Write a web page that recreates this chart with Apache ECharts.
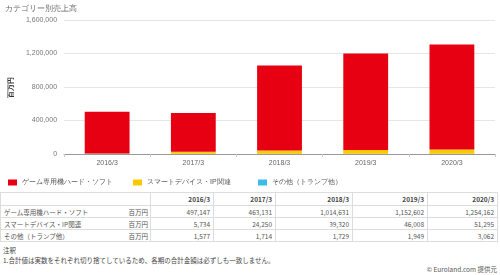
<!DOCTYPE html>
<html>
<head>
<meta charset="utf-8">
<script src="https://cdn.jsdelivr.net/npm/echarts@6/dist/echarts.min.js"></script>
<style>
  body { margin: 0; background: #fff; font-family: "Noto Sans CJK JP", "Noto Sans", sans-serif; }
  #chart { position: absolute; left: 0; top: 0; width: 500px; height: 190px; }
  #tbl { position: absolute; left: 0; top: 192px; width: 497px; border-collapse: collapse; font-size: 6.5px; color: #555; table-layout: fixed; }
  #tbl td { border: 1px solid #ddd; padding: 0 3px; white-space: nowrap; overflow: hidden; }
  #tbl tr { height: 12px; }
  #tbl tr.head { height: 13px; }
  #tbl td.num { text-align: right; }
  #tbl td.lbl { border-right: none; }
  #tbl td.unit { border-left: none; padding: 0 2px 0 0; }
  #tbl tr.head td { font-weight: bold; color: #444; }
  #note { position: absolute; left: 3px; top: 245px; font-size: 6.5px; color: #444; line-height: 10px; }
  #src { position: absolute; right: 3px; top: 264px; font-size: 6.5px; color: #555; }
</style>
</head>
<body>
<div id="chart"></div>
<table id="tbl"></table>
<div id="note">注釈<br>1.合計値は実数をそれぞれ切り捨てしているため、各期の合計金額は必ずしも一致しません。</div>
<div id="src">© Euroland.com 提供元</div>
<script>
const categories = ['2016/3', '2017/3', '2018/3', '2019/3', '2020/3'];
const seriesNames = ['ゲーム専用機ハード・ソフト', 'スマートデバイス・IP関連', 'その他（トランプ他）'];
const gameValues = [497147, 463131, 1014631, 1152602, 1254162];
const smartValues = [5734, 24250, 39320, 46008, 51295];
const otherValues = [1577, 1714, 1729, 1949, 3062];
const unit = '百万円';
const colors = ['#e60012', '#fcc800', '#3cbde9'];

const fmt = v => v.toLocaleString('en-US');

// one legend per item so they sit on a fixed 125px spacing
const legends = seriesNames.map((n, i) => ({
    data: [n],
    left: 3 + i * 125, top: 174,
    itemWidth: 9, itemHeight: 6,
    icon: 'rect',
    textStyle: { fontSize: 7, color: '#555' }
}));

const chart = echarts.init(document.getElementById('chart'));
chart.setOption({
    animation: false,
    title: {
        text: 'カテゴリー別売上高',
        left: 0, top: 0,
        textStyle: { fontSize: 8, fontWeight: 'normal', color: '#666' }
    },
    legend: legends,
    grid: { left: 45, right: 5, top: 20, bottom: 36 },
    xAxis: {
        type: 'category',
        data: categories,
        axisLine: { lineStyle: { color: '#999' } },
        axisTick: { show: true, length: 3, lineStyle: { color: '#ccc' } },
        axisLabel: { fontSize: 7, color: '#666', margin: 6 }
    },
    yAxis: {
        type: 'value',
        min: 0, max: 1600000, interval: 400000,
        name: unit,
        nameLocation: 'middle',
        nameGap: 38,
        nameRotate: 90,
        nameTextStyle: { fontSize: 7, fontWeight: 'bold', color: '#333' },
        axisLabel: { fontSize: 7, color: '#777', margin: 7, formatter: fmt },
        splitLine: { lineStyle: { color: '#e6e6e6' } }
    },
    series: [
        { name: seriesNames[2], type: 'bar', stack: 'a', data: otherValues, itemStyle: { color: colors[2] }, barWidth: '52%' },
        { name: seriesNames[1], type: 'bar', stack: 'a', data: smartValues, itemStyle: { color: colors[1] } },
        { name: seriesNames[0], type: 'bar', stack: 'a', data: gameValues, itemStyle: { color: colors[0] } }
    ]
});

// data table
const widths = [128, 22, 63, 62, 77, 75, 70];
let html = '<colgroup>' + widths.map(w => '<col style="width:' + w + 'px">').join('') + '</colgroup>';
html += '<tr class="head"><td class="lbl"></td><td class="unit"></td>' +
    categories.map(c => '<td class="num">' + c + '</td>').join('') + '</tr>';
[gameValues, smartValues, otherValues].forEach((vals, i) => {
    html += '<tr><td class="lbl">' + seriesNames[i] + '</td><td class="unit">' + unit + '</td>' +
        vals.map(v => '<td class="num">' + fmt(v) + '</td>').join('') + '</tr>';
});
document.getElementById('tbl').innerHTML = html;
</script>
</body>
</html>
